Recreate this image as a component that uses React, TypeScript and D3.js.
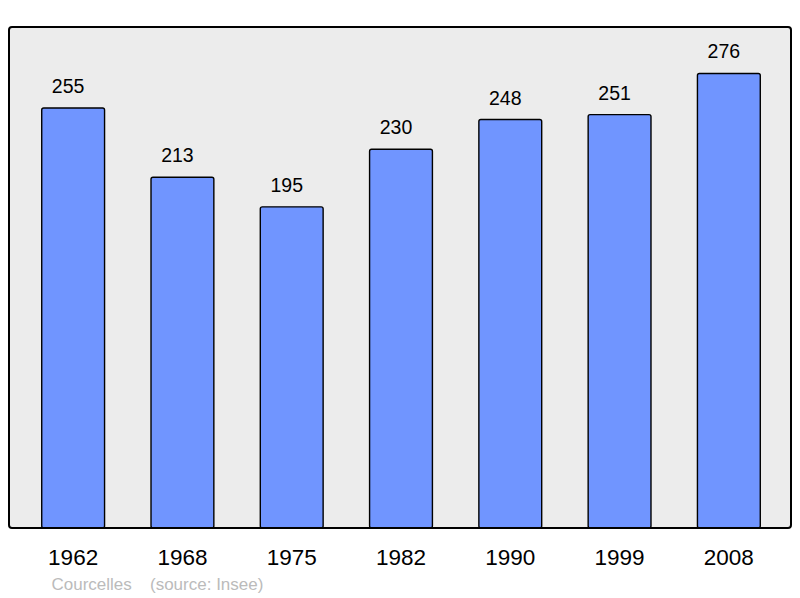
import React from "react";
import * as d3 from "d3";

const years = ["1962", "1968", "1975", "1982", "1990", "1999", "2008"];
const population = [255, 213, 195, 230, 248, 251, 276];
const townName = "Courcelles";
const sourceText = "(source: Insee)";

export default function App() {
  const W = 800, H = 598;
  const frame = { x: 9, y: 27, w: 782, h: 501 };
  const x = d3.scaleBand<string>().domain(years).range([18.5, 783.5]).paddingInner(0.425).paddingOuter(0.2125);
  const y = d3.scaleLinear().domain([0, 304.2]).range([frame.y + frame.h, frame.y]);
  const font = "'Liberation Sans', Arial, sans-serif";
  return (
    <svg width={W} height={H} style={{ position: "absolute", left: 0, top: 0 }} fontFamily={font}>
      <rect x={frame.x} y={frame.y} width={frame.w} height={frame.h} rx={3} fill="#ececec" stroke="none" />
      {years.map((yr, i) => {
        const bx = x(yr)!;
        const bw = x.bandwidth();
        const top = y(population[i]);
        return (
          <g key={yr}>
            <rect x={bx} y={top} width={bw} height={y(0) - top} rx={2} fill="#7095ff" stroke="#000" strokeWidth={1.4} />
            <text x={bx + bw / 2 - 5} y={top - 15} textAnchor="middle" fontSize={19.5} fill="#000">{population[i]}</text>
            <text x={bx + bw / 2} y={564.5} textAnchor="middle" fontSize={22.5} fill="#000">{yr}</text>
          </g>
        );
      })}
      <rect x={frame.x} y={frame.y} width={frame.w} height={frame.h} rx={3} fill="none" stroke="#000" strokeWidth={2} />
      <text x={51.5} y={590} fontSize={17} fill="#bbbbbb">{townName}</text>
      <text x={150} y={590} fontSize={17} fill="#bbbbbb">{sourceText}</text>
    </svg>
  );
}
